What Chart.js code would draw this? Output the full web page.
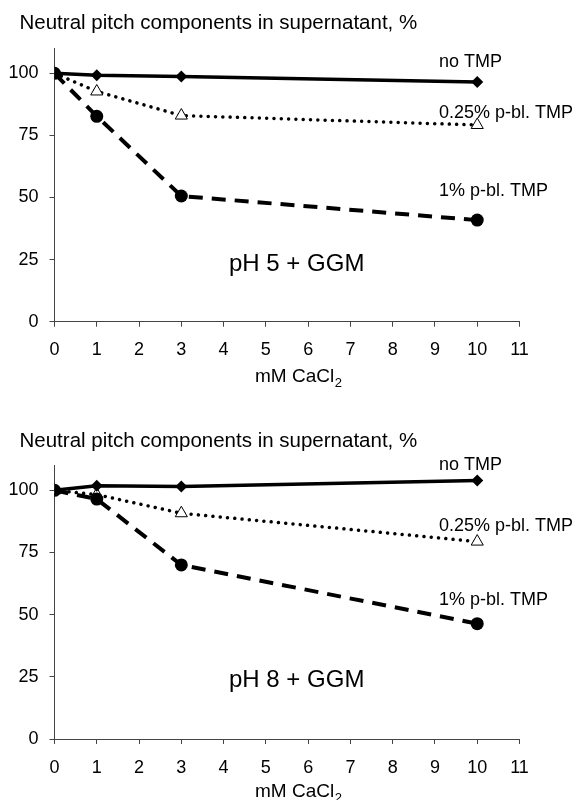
<!DOCTYPE html>
<html>
<head>
<meta charset="utf-8">
<script src="https://cdn.jsdelivr.net/npm/chart.js@4"></script>
<style>
  body { margin: 0; background: #fff; }
  canvas { display: block; }
</style>
</head>
<body>
<canvas id="chartPh5" width="576" height="400"></canvas>
<canvas id="chartPh8" width="576" height="400"></canvas>
<script>
// Data
const cacl2 = [0, 1, 3, 10];
const xTicks = [0, 1, 2, 3, 4, 5, 6, 7, 8, 9, 10, 11];
const yTicks = [0, 25, 50, 75, 100];
const seriesNames = ["no TMP", "0.25% p-bl. TMP", "1% p-bl. TMP"];

const ph5NoTmp = [100, 99.2, 98.7, 96.5];
const ph5Tmp025 = [100, 92.7, 83.0, 79.2];
const ph5Tmp1 = [100, 82.7, 50.6, 40.9];

const ph8NoTmp = [100, 101.9, 101.6, 104.0];
const ph8Tmp025 = [100, 98.3, 90.8, 79.4];
const ph8Tmp1 = [100, 96.5, 70.0, 46.4];

const FONT = "'Liberation Sans', Arial, sans-serif";

function toPoints(values) {
  return values.map((v, i) => ({ x: cacl2[i], y: v }));
}

// Titles, curve labels and the pH note
const textPlugin = {
  id: "figureText",
  afterDraw(chart) {
    const t = chart.options.plugins.figureText;
    const ctx = chart.ctx;
    ctx.save();
    ctx.fillStyle = "#000";
    ctx.textBaseline = "alphabetic";
    ctx.textAlign = "left";

    ctx.font = `20.5px ${FONT}`;
    ctx.fillText("Neutral pitch components in supernatant, %", 19.5, t.titleY);

    ctx.font = `18px ${FONT}`;
    seriesNames.forEach((name, i) => ctx.fillText(name, 439, t.labelY[i]));

    ctx.font = `24px ${FONT}`;
    ctx.fillText(t.note, 229, t.noteY);

    ctx.font = `19px ${FONT}`;
    const main = "mM CaCl";
    ctx.fillText(main, 255, t.xTitleY);
    const w = ctx.measureText(main).width;
    ctx.font = `13px ${FONT}`;
    ctx.fillText("2", 255 + w + 0.5, t.xTitleY + 5);
    ctx.restore();
  }
};

function buildChart(id, noTmp, tmp025, tmp1, layout) {
  return new Chart(document.getElementById(id), {
    type: "line",
    data: {
      datasets: [
        {
          label: seriesNames[0],
          data: toPoints(noTmp),
          borderColor: "#000",
          backgroundColor: "#000",
          borderWidth: 3.5,
          pointStyle: "rectRot",
          pointRadius: 6,
          pointBorderWidth: 0,
          order: 1
        },
        {
          label: seriesNames[1],
          data: toPoints(tmp025),
          borderColor: "#000",
          borderWidth: 3.5,
          borderDash: [0.01, 7.3],
          borderCapStyle: "round",
          pointStyle: "triangle",
          pointRadius: 7,
          pointBackgroundColor: "#fff",
          pointBorderColor: "#000",
          pointBorderWidth: 1,
          order: 2
        },
        {
          label: seriesNames[2],
          data: toPoints(tmp1),
          borderColor: "#000",
          backgroundColor: "#000",
          borderWidth: 4,
          borderDash: [14, 9],
          pointStyle: "circle",
          pointRadius: 6.5,
          pointBorderWidth: 0,
          order: 0
        }
      ]
    },
    options: {
      responsive: false,
      animation: false,
      layout: {
        padding: { left: 0, right: 576 - layout.right, top: layout.top, bottom: 0 }
      },
      plugins: {
        legend: { display: false },
        tooltip: { enabled: false },
        figureText: layout.text
      },
      scales: {
        x: {
          type: "linear",
          min: 0,
          max: 11,
          afterBuildTicks: s => { s.ticks = xTicks.map(v => ({ value: v })); },
          afterFit: s => { s.height = 400 - layout.bottom; },
          grid: { drawOnChartArea: false, drawTicks: true, tickLength: 5, color: "#444" },
          border: { display: true, color: "#444", width: 1 },
          ticks: { color: "#000", padding: 13, font: { family: FONT, size: 18 } }
        },
        y: {
          min: 0,
          max: 110,
          afterBuildTicks: s => { s.ticks = yTicks.map(v => ({ value: v })); },
          afterFit: s => { s.width = layout.left; },
          grid: { drawOnChartArea: false, drawTicks: true, tickLength: 5, color: "#444" },
          border: { display: true, color: "#444", width: 1 },
          ticks: { color: "#000", padding: 11, font: { family: FONT, size: 18 } }
        }
      }
    },
    plugins: [textPlugin]
  });
}

buildChart("chartPh5", ph5NoTmp, ph5Tmp025, ph5Tmp1, {
  left: 54.5, right: 519.5, top: 48.5, bottom: 321.7,
  text: { titleY: 29.4, labelY: [66.7, 118.1, 196.4], note: "pH 5 + GGM", noteY: 270.6, xTitleY: 381.8 }
});

buildChart("chartPh8", ph8NoTmp, ph8Tmp025, ph8Tmp1, {
  left: 54.5, right: 519.5, top: 65.5, bottom: 339,
  text: { titleY: 47.2, labelY: [69.7, 131.4, 204.7], note: "pH 8 + GGM", noteY: 286.9, xTitleY: 396.8 }
});
</script>
</body>
</html>
